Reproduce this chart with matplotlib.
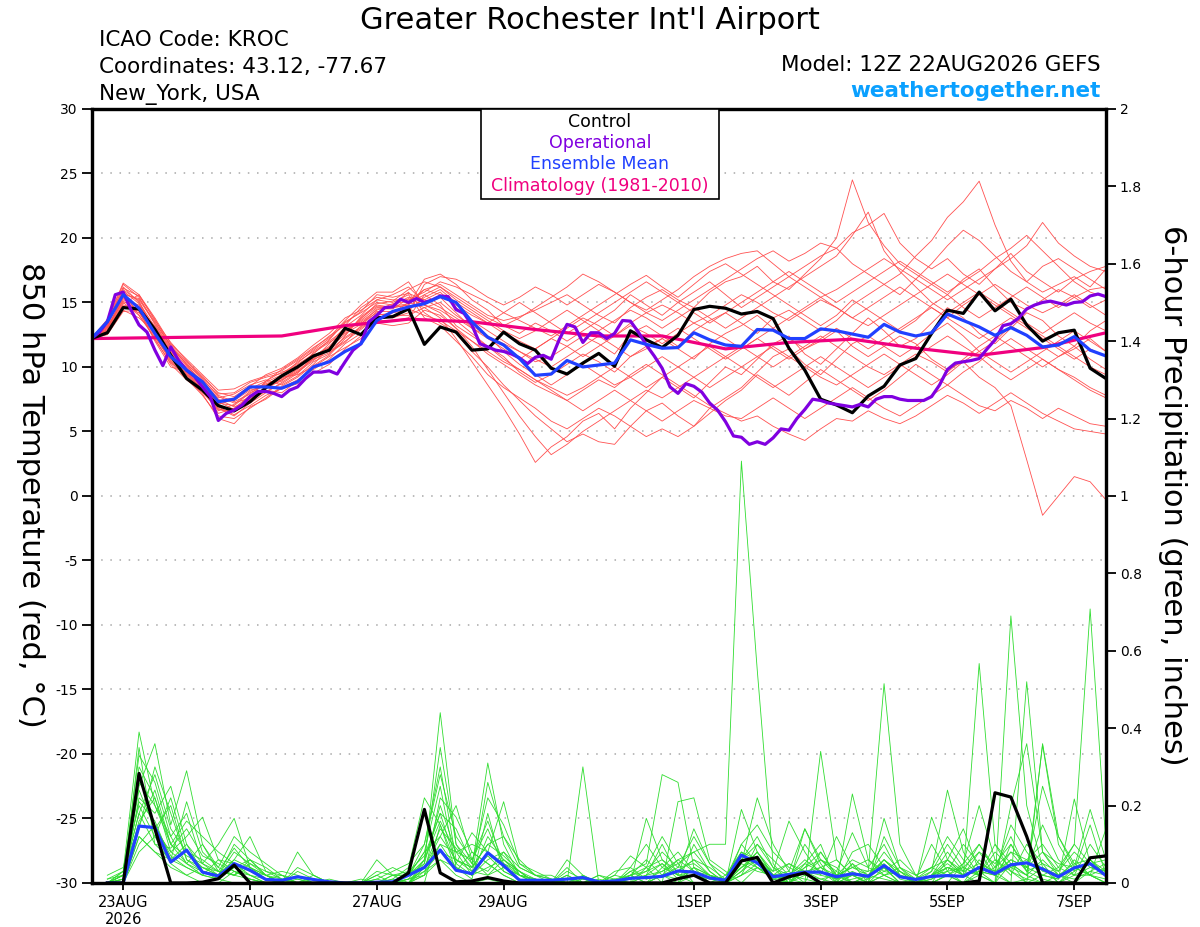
import numpy as np
import matplotlib.pyplot as plt
from matplotlib.patches import Rectangle

plt.rcParams['axes.unicode_minus'] = False

# GEFS meteogram, KROC, 12Z 22AUG2026 run
# temperature every 6 h from 0 to 384 h, operational every 3 h,
# precipitation as 6-h totals ending at 6 h ... 384 h
hours = np.arange(0, 385, 6)
oper_hours = np.arange(0, 385, 3)
precip_hours = np.arange(6, 385, 6)

# x axis dates (hours after 22AUG 12Z)
date_hours = [12, 60, 108, 156, 228, 276, 324, 372]
date_labels = ['23AUG\n2026', '25AUG', '27AUG', '29AUG', '1SEP', '3SEP', '5SEP', '7SEP']

# 850 hPa temperature (C)
control_t = [12.2, 12.65, 14.6, 14.5, 12.9, 10.9, 9.1, 8.2, 7.0, 6.6, 7.3, 8.4, 9.3, 10.0, 10.85,
             11.3, 13.0, 12.5, 13.8, 13.9, 14.5, 11.75, 13.1, 12.7, 11.3, 11.4, 12.7, 11.8, 11.3,
             9.9, 9.45, 10.3, 11.05, 10.05, 12.8, 12.1, 11.5, 12.45, 14.45, 14.7, 14.55, 14.1,
             14.3, 13.75, 11.45, 9.75, 7.5, 7.05, 6.45, 7.75, 8.5, 10.15, 10.65, 12.6, 14.4,
             14.15, 15.8, 14.35, 15.25, 13.25, 12.0, 12.65, 12.85, 9.9, 9.1]

mean_t = [12.2, 13.5, 15.6, 14.55, 12.6, 10.8, 9.75, 8.85, 7.3, 7.5, 8.45, 8.45, 8.35, 8.85, 10.0,
          10.4, 11.2, 11.8, 13.6, 14.3, 14.65, 14.9, 15.45, 15.0, 13.5, 12.3, 11.7, 10.65, 9.35,
          9.45, 10.5, 10.0, 10.15, 10.3, 12.1, 11.75, 11.45, 11.5, 12.65, 12.1, 11.7, 11.6, 12.9,
          12.85, 12.2, 12.2, 12.95, 12.8, 12.55, 12.3, 13.3, 12.7, 12.4, 12.65, 14.1, 13.6, 13.1,
          12.45, 13.05, 12.45, 11.55, 11.7, 12.35, 11.3, 10.85]

oper_t = [12.2, 12.7, 13.5, 15.6, 15.8, 14.4, 13.25, 12.7, 11.3, 10.1,
          11.55, 10.5, 9.75, 9.25, 8.45, 7.7, 5.85, 6.4, 6.65, 7.05,
          7.7, 8.1, 8.1, 7.95, 7.7, 8.2, 8.45, 9.1, 9.6, 9.6,
          9.7, 9.45, 10.4, 11.3, 11.8, 13.5, 14.0, 14.6, 14.65, 15.25,
          15.0, 15.3, 15.0, 15.2, 15.5, 15.45, 14.45, 14.15, 13.25, 11.8,
          11.55, 11.3, 11.2, 11.0, 10.7, 10.25, 10.75, 10.9, 10.6, 12.1,
          13.3, 13.1, 11.9, 12.65, 12.65, 12.2, 12.6, 13.6, 13.55, 12.7,
          11.7, 10.85, 9.9, 8.45, 7.95, 8.7, 8.5, 8.05, 7.2, 6.65,
          5.75, 4.65, 4.55, 4.0, 4.2, 4.0, 4.5, 5.2, 5.1, 6.0,
          6.7, 7.5, 7.4, 7.2, 7.1, 7.0, 6.9, 7.1, 6.9, 7.5,
          7.7, 7.7, 7.5, 7.4, 7.4, 7.4, 7.7, 8.6, 9.8, 10.3,
          10.4, 10.5, 10.65, 11.4, 12.1, 13.2, 13.35, 13.8, 14.5, 14.8,
          15.0, 15.1, 14.95, 14.8, 15.0, 15.05, 15.5, 15.65, 15.45]

clim_hours = [0, 72, 96, 120, 144, 168, 192, 216, 240, 264, 288, 312, 336, 360, 384]
clim_t = [12.2, 12.4, 13.2, 13.7, 13.5, 12.9, 12.4, 12.4, 11.4, 11.9, 12.15, 11.45, 10.9, 11.5, 12.65]

# ensemble members, first 21 steps (0-120 h)
members_t_early = [
    [12.2, 12.9, 15.2, 14.8, 13.0, 11.2, 9.9, 8.6, 7.2, 7.0, 8.0, 8.6, 9.0, 9.6, 10.5, 11.4, 12.8, 13.6, 14.6, 14.6, 14.8],
    [12.2, 13.2, 16.0, 15.1, 12.6, 10.7, 9.5, 8.3, 6.4, 6.8, 7.8, 8.2, 8.0, 8.9, 10.1, 10.9, 12.2, 13.0, 14.0, 14.2, 15.0],
    [12.2, 13.6, 16.4, 15.4, 13.3, 11.5, 10.3, 9.0, 7.8, 7.3, 7.9, 8.8, 9.4, 10.2, 11.0, 12.1, 13.5, 14.2, 15.0, 14.8, 15.4],
    [12.2, 12.6, 14.7, 14.2, 12.4, 10.4, 9.2, 7.9, 6.0, 5.6, 6.9, 7.5, 8.4, 9.0, 9.8, 10.6, 11.8, 12.6, 13.6, 13.6, 13.8],
    [12.2, 13.0, 15.5, 14.6, 12.8, 11.0, 10.0, 8.8, 7.6, 7.9, 8.6, 9.0, 8.6, 9.3, 10.4, 11.0, 12.4, 13.9, 14.8, 14.6, 14.8],
    [12.2, 13.4, 15.8, 14.0, 12.2, 10.2, 9.0, 8.0, 6.8, 6.2, 7.2, 8.0, 8.8, 9.6, 10.8, 11.6, 12.9, 13.4, 14.2, 14.8, 15.8],
    [12.2, 12.8, 14.9, 15.6, 13.8, 11.8, 10.6, 9.4, 8.2, 8.3, 8.9, 9.3, 9.7, 10.5, 11.4, 12.4, 13.2, 14.6, 15.4, 15.2, 15.2],
    [12.2, 13.1, 15.1, 14.4, 12.0, 10.0, 9.6, 8.5, 7.0, 6.6, 7.5, 8.4, 9.2, 9.4, 10.0, 10.8, 11.5, 12.2, 13.4, 13.2, 13.4],
    [12.2, 13.5, 16.2, 15.0, 13.1, 11.3, 9.8, 8.9, 7.4, 7.6, 8.3, 8.9, 9.6, 10.0, 10.6, 11.8, 13.1, 14.0, 15.2, 15.6, 16.2],
    [12.2, 12.7, 14.4, 13.8, 12.7, 10.8, 9.4, 8.1, 6.6, 7.1, 8.1, 8.7, 9.1, 9.8, 10.9, 11.2, 12.0, 12.9, 13.9, 13.8, 14.2],
    [12.2, 13.3, 15.6, 15.3, 13.5, 11.6, 10.2, 9.2, 8.0, 7.7, 8.5, 9.4, 9.9, 10.7, 11.7, 12.6, 13.8, 14.4, 15.2, 15.0, 15.6],
    [12.2, 12.9, 15.0, 14.0, 12.3, 10.6, 9.3, 8.4, 6.9, 6.3, 7.0, 7.8, 8.3, 8.7, 9.5, 10.2, 11.4, 12.4, 13.8, 14.2, 14.4],
    [12.2, 13.2, 15.9, 14.9, 12.9, 11.1, 9.7, 8.7, 7.3, 7.4, 8.2, 8.5, 8.9, 9.9, 11.1, 11.9, 12.6, 13.3, 14.5, 14.5, 15.3],
    [12.2, 13.7, 16.5, 15.6, 13.6, 11.9, 10.5, 9.1, 7.7, 7.2, 7.6, 8.3, 9.3, 10.1, 10.9, 11.5, 12.7, 13.7, 14.9, 15.1, 16.0],
    [12.2, 12.5, 14.3, 14.4, 13.2, 11.4, 10.1, 8.9, 7.5, 6.9, 7.4, 8.1, 8.7, 9.5, 10.7, 11.3, 12.3, 13.1, 14.1, 14.0, 14.0],
    [12.2, 13.0, 15.3, 14.7, 12.5, 10.5, 9.1, 7.8, 6.2, 6.0, 6.8, 7.6, 8.5, 9.2, 10.2, 11.5, 12.5, 13.8, 14.7, 14.7, 14.9],
    [12.2, 13.4, 15.7, 15.2, 13.4, 11.7, 10.4, 9.3, 7.9, 8.0, 8.8, 9.2, 9.5, 10.3, 11.3, 12.2, 13.4, 14.3, 15.6, 15.4, 15.7],
    [12.2, 12.8, 14.8, 14.5, 12.7, 10.9, 9.6, 8.2, 6.7, 6.5, 7.3, 8.3, 9.0, 9.7, 10.6, 11.1, 11.9, 13.2, 14.3, 14.3, 14.5],
    [12.2, 13.1, 15.4, 14.3, 12.1, 10.3, 9.4, 8.6, 7.1, 7.5, 8.4, 8.6, 9.3, 10.4, 11.2, 12.0, 12.9, 13.5, 14.4, 14.9, 15.1],
    [12.2, 13.5, 16.1, 15.5, 13.7, 11.6, 10.2, 8.7, 7.3, 6.7, 7.7, 8.9, 9.8, 10.6, 11.5, 12.3, 13.6, 14.8, 15.8, 15.8, 16.6],
]

# ensemble members, remaining 44 steps (126-384 h)
members_t_late = [
    [16.0, 16.4, 15.6, 14.8, 14.0, 13.6, 13.9, 14.4, 15.0, 15.6, 14.8, 14.0, 13.4, 14.6, 15.4, 16.0, 15.2, 14.6, 15.8, 16.6,
     17.0, 17.8, 16.6, 16.0, 17.2, 18.4, 20.0, 24.5, 21.2, 19.4, 18.0, 17.2, 16.4, 15.6, 16.8, 17.6, 16.2, 15.0, 14.4, 15.2,
     16.0, 15.4, 14.6, 15.2],
    [14.6, 13.8, 12.2, 10.4, 8.6, 6.8, 4.8, 2.6, 3.8, 4.6, 5.8, 6.4, 5.2, 6.8, 8.0, 9.2, 8.4, 7.6, 8.8, 10.0,
     9.4, 10.6, 11.8, 12.4, 11.0, 10.2, 11.4, 12.6, 13.8, 12.8, 11.6, 12.2, 13.4, 14.6, 13.8, 12.6, 11.8, 13.0, 14.2, 13.6,
     12.4, 11.6, 12.8, 13.6],
    [15.2, 15.8, 14.6, 13.6, 12.8, 12.0, 11.2, 10.4, 10.8, 11.6, 12.4, 11.8, 11.0, 12.6, 13.2, 12.4, 11.6, 12.8, 13.6, 14.2,
     13.4, 12.6, 13.8, 14.4, 13.6, 12.8, 13.6, 14.8, 15.6, 16.4, 17.2, 18.6, 19.8, 21.6, 22.8, 24.4, 21.0, 18.2, 16.6, 15.8,
     16.4, 17.0, 16.2, 17.6],
    [15.6, 14.8, 13.2, 12.4, 11.6, 10.8, 9.6, 8.8, 9.4, 10.2, 11.0, 10.4, 9.6, 10.8, 11.6, 12.2, 11.4, 10.6, 11.8, 12.6,
     13.2, 14.0, 13.0, 12.2, 11.4, 12.0, 12.8, 11.6, 10.8, 11.6, 12.4, 11.8, 10.6, 9.8, 10.4, 9.2, 8.4, 7.0, 2.8, -1.5,
     0.0, 1.5, 1.1, -0.3],
    [16.8, 17.2, 16.4, 15.2, 14.4, 13.2, 12.6, 13.4, 12.8, 12.0, 12.8, 13.6, 14.4, 15.6, 14.8, 14.0, 15.0, 15.8, 16.6, 15.6,
     14.6, 15.4, 16.2, 17.0, 17.8, 18.6, 19.2, 20.4, 21.0, 21.9, 19.6, 18.4, 17.6, 18.4, 17.2, 16.4, 17.6, 18.8, 17.4, 16.6,
     15.8, 16.8, 17.4, 17.8],
    [14.2, 13.4, 12.6, 11.2, 10.0, 8.6, 7.4, 6.2, 5.2, 4.2, 4.8, 4.2, 4.0, 5.4, 6.6, 7.2, 6.2, 5.4, 6.8, 7.6,
     8.4, 9.6, 10.8, 11.4, 10.2, 9.4, 10.6, 11.8, 12.4, 11.6, 10.8, 11.6, 12.6, 13.4, 12.4, 11.2, 12.0, 13.2, 12.4, 11.6,
     10.8, 11.4, 12.2, 11.2],
    [15.8, 16.6, 16.2, 15.6, 15.0, 14.2, 13.6, 13.0, 12.4, 13.2, 14.0, 14.8, 15.6, 16.4, 17.1, 16.2, 15.4, 16.4, 17.4, 18.0,
     17.2, 16.4, 15.6, 14.8, 14.0, 13.2, 14.0, 15.2, 14.4, 13.6, 12.8, 13.6, 14.8, 15.6, 14.6, 13.8, 14.6, 15.4, 16.2, 15.4,
     14.6, 15.4, 16.0, 16.2],
    [14.4, 14.0, 13.0, 12.0, 11.0, 10.2, 9.4, 8.6, 8.0, 7.4, 8.2, 9.0, 8.4, 9.4, 10.2, 9.4, 8.6, 7.8, 7.0, 6.4,
     5.8, 6.2, 5.4, 4.8, 4.3, 5.2, 6.0, 5.8, 6.6, 6.0, 5.6, 6.2, 7.0, 7.8, 7.2, 6.4, 7.2, 8.0, 7.2, 6.4,
     5.8, 5.2, 5.0, 4.8],
    [15.0, 15.4, 14.2, 13.0, 12.2, 11.4, 10.6, 11.4, 12.2, 11.6, 10.8, 11.6, 12.4, 13.2, 12.6, 11.8, 12.6, 13.4, 12.8, 12.2,
     11.4, 12.2, 13.0, 13.8, 14.6, 15.4, 14.6, 13.8, 13.2, 14.0, 14.8, 15.6, 16.4, 17.2, 16.4, 15.6, 14.8, 14.0, 13.2, 12.4,
     11.6, 10.8, 10.0, 9.4],
    [16.4, 17.0, 16.8, 16.2, 15.4, 14.8, 15.4, 16.2, 15.6, 14.8, 15.6, 16.4, 15.8, 15.0, 14.2, 13.6, 14.4, 15.2, 16.0, 16.8,
     17.6, 18.4, 19.0, 18.2, 18.8, 19.6, 19.2, 18.0, 17.2, 16.4, 15.6, 16.8, 18.0, 19.4, 20.6, 19.8, 18.6, 17.4, 16.6, 17.8,
     18.4, 17.6, 16.8, 16.0],
    [13.8, 13.2, 12.0, 10.8, 9.4, 8.4, 7.6, 6.8, 5.8, 5.2, 6.0, 6.8, 6.2, 5.4, 4.6, 5.2, 4.6, 5.4, 6.4, 7.4,
     8.2, 9.4, 8.6, 7.8, 8.8, 9.8, 9.0, 8.2, 7.4, 8.2, 9.2, 10.2, 9.4, 8.6, 9.6, 10.4, 11.4, 12.2, 11.4, 10.6,
     9.8, 9.2, 8.4, 7.8],
    [15.4, 16.0, 15.0, 14.2, 13.4, 12.6, 12.0, 11.4, 12.2, 13.0, 13.8, 13.2, 12.4, 13.4, 14.2, 14.8, 14.2, 13.4, 14.0, 14.8,
     15.6, 15.0, 14.2, 13.6, 14.4, 15.2, 14.6, 13.8, 14.6, 15.4, 16.2, 15.4, 14.6, 13.8, 14.8, 15.6, 16.4, 15.6, 14.8, 14.2,
     14.8, 15.6, 14.8, 14.0],
    [14.8, 14.2, 13.0, 11.6, 9.8, 8.0, 6.2, 4.6, 3.2, 4.0, 5.0, 5.8, 6.6, 7.4, 8.2, 7.6, 8.4, 9.2, 10.0, 10.8,
     11.6, 10.8, 10.0, 10.8, 11.6, 12.4, 11.6, 10.8, 10.0, 9.4, 10.2, 11.0, 10.4, 9.6, 10.6, 11.6, 12.4, 11.6, 10.8, 10.0,
     10.8, 11.6, 10.6, 9.8],
    [16.6, 16.2, 15.4, 14.6, 13.8, 13.2, 13.8, 14.6, 15.4, 16.2, 17.2, 16.6, 15.8, 15.0, 14.4, 15.2, 16.0, 17.0, 17.8, 18.4,
     18.8, 19.0, 18.0, 17.0, 16.2, 15.4, 16.0, 16.8, 17.6, 18.4, 17.6, 16.8, 16.0, 15.2, 16.0, 16.8, 17.6, 18.4, 19.4, 21.2,
     19.6, 18.6, 17.8, 17.4],
    [14.6, 15.0, 14.0, 13.2, 12.4, 11.2, 10.2, 9.4, 8.6, 9.4, 10.2, 9.4, 8.6, 9.2, 10.0, 10.8, 10.0, 9.2, 8.4, 9.2,
     10.0, 10.8, 11.6, 10.8, 10.0, 9.2, 8.6, 9.4, 10.2, 11.0, 10.2, 9.4, 8.6, 9.4, 10.4, 11.2, 10.4, 9.6, 10.4, 11.2,
     12.0, 12.8, 12.0, 11.2],
    [15.6, 16.2, 15.2, 14.4, 13.6, 12.8, 12.2, 12.8, 13.6, 14.4, 13.6, 12.8, 13.6, 14.4, 13.8, 13.0, 13.8, 14.6, 13.8, 13.0,
     13.8, 14.6, 15.4, 16.2, 17.0, 17.8, 18.6, 20.2, 22.0, 19.0, 17.4, 16.2, 15.0, 14.2, 15.0, 15.8, 15.0, 14.2, 13.4, 12.6,
     13.4, 14.2, 13.4, 12.8],
    [15.2, 14.6, 13.8, 13.0, 12.4, 11.8, 11.2, 10.6, 10.0, 10.8, 11.6, 12.4, 11.6, 10.8, 11.4, 12.2, 13.0, 12.2, 11.4, 10.6,
     11.4, 12.2, 11.4, 10.6, 11.4, 12.2, 13.0, 12.2, 11.4, 12.2, 13.0, 13.8, 14.6, 13.8, 13.0, 12.2, 13.0, 13.8, 13.0, 12.2,
     11.4, 10.6, 11.4, 10.8],
    [14.0, 13.6, 12.8, 12.0, 11.2, 10.4, 9.8, 9.0, 8.2, 7.4, 6.6, 7.4, 8.2, 7.4, 6.6, 5.8, 6.6, 7.4, 6.8, 6.2,
     6.0, 6.8, 7.6, 6.8, 6.0, 6.8, 7.6, 8.4, 7.6, 6.8, 6.2, 7.0, 7.8, 8.6, 7.8, 7.0, 6.6, 7.4, 6.8, 6.0,
     6.8, 6.2, 5.6, 5.4],
    [16.0, 15.6, 14.8, 14.0, 13.4, 14.2, 15.0, 14.2, 13.4, 12.6, 13.4, 14.2, 15.0, 15.8, 16.6, 15.8, 15.0, 14.2, 13.4, 14.2,
     15.0, 15.8, 16.6, 17.4, 16.6, 15.8, 15.0, 15.8, 16.6, 17.4, 18.2, 17.4, 16.6, 15.8, 16.6, 17.4, 18.4, 19.2, 20.2, 19.0,
     17.8, 16.6, 15.8, 15.4],
    [14.8, 14.4, 13.6, 12.6, 11.6, 10.6, 9.8, 9.0, 8.4, 7.8, 8.4, 9.2, 10.0, 9.2, 8.4, 9.2, 10.0, 10.8, 11.6, 10.8,
     10.0, 9.2, 8.4, 9.2, 10.0, 10.8, 10.0, 9.2, 8.4, 9.2, 10.0, 10.8, 11.6, 12.4, 11.6, 10.8, 9.8, 9.0, 9.8, 10.6,
     9.8, 9.0, 8.2, 7.6],
]
members_t = [e + l for e, l in zip(members_t_early, members_t_late)]

# 6-hour precipitation (inches)
control_p = [0, 0, .283, .14, 0, 0, .002, .011, .046, 0, 0, 0, 0, 0, 0, 0,
             0, 0, 0, .026, .19, .026, .003, .005, .014, .005, 0, 0, 0, 0, 0, 0,
             0, 0, 0, 0, .011, .02, 0, 0, .057, .066, 0, .016, .026, 0, 0, 0,
             0, 0, 0, 0, 0, 0, 0, .005, .233, .222, .12, 0, 0, 0, .065, .07]

mean_p = [0, 0, .147, .143, .054, .085, .028, .018, .05, .033, .009, .007, .016, .009, .003, 0,
          0, .002, .003, .02, .04, .085, .033, .024, .078, .045, .007, .007, .007, .01, .014, .003,
          .005, .012, .014, .017, .031, .028, .013, .007, .072, .052, .016, .022, .028, .028, .016, .024,
          .017, .045, .016, .009, .017, .019, .017, .04, .024, .047, .052, .036, .016, .039, .05, .019]

members_p = [
    [0, 0, .12, .08, .04, .02, 0, 0, .03, .01, 0, 0, 0, 0, 0, 0,
     0, 0, 0, .01, .03, .06, .02, 0, .01, 0, 0, 0, 0, .02, 0, 0,
     0, 0, 0, .02, .06, .08, .10, .10, 1.09, .55, .05, 0, .03, .01, 0, .02,
     0, .04, 0, 0, 0, .02, 0, .06, .02, 0, .01, 0, 0, .04, .02, 0],
    [.01, .03, .39, .20, .10, .05, .02, .01, 0, 0, 0, 0, 0, 0, 0, 0,
     0, 0, 0, 0, .05, .44, .10, .03, .02, .06, .02, 0, 0, 0, .30, 0,
     0, 0, 0, 0, 0, .02, 0, 0, .03, .08, .02, 0, 0, 0, 0, .05,
     0, .12, .04, 0, 0, .06, .02, 0, 0, .69, .20, .04, 0, 0, .06, .02],
    [0, .02, .25, .36, .15, .29, .10, .03, .02, .04, .01, 0, 0, 0, 0, 0,
     0, 0, 0, .02, .08, .12, .06, .04, .31, .10, .02, 0, 0, .01, 0, 0,
     .02, .07, .04, 0, 0, .10, .03, 0, .19, .08, .02, .05, .03, 0, 0, .08,
     .10, .04, 0, 0, .03, .24, .08, .02, 0, .05, 0, .36, .12, .05, .02, 0],
    [0, .01, .30, .22, .08, .12, .17, .06, .03, .01, 0, 0, 0, .02, 0, 0,
     0, .06, .02, 0, .02, .22, .17, .08, .05, .02, 0, 0, 0, 0, .02, 0,
     0, .03, .05, .28, .26, .04, 0, 0, .05, .22, .10, .03, 0, .34, .06, .02,
     .02, .01, 0, 0, .02, .08, .03, .02, .10, .05, .02, 0, .02, .04, .19, .06],
    [0, 0, .22, .18, .25, .10, .05, .10, .167, .04, .02, 0, .08, .02, 0, 0,
     0, 0, 0, .03, .07, .18, .05, .13, .08, .21, .05, .02, 0, 0, .01, 0,
     0, 0, .167, .06, .02, .14, .05, .02, .08, .06, .03, .16, .08, .02, .12, .04,
     .03, .515, .10, .02, 0, 0, .05, .10, .03, 0, .52, .08, .02, 0, .03, .05],
    [0, .02, .18, .28, .14, .08, .04, .02, .06, .12, .03, .02, 0, 0, 0, 0,
     0, 0, .02, .02, .10, .28, .12, .06, .16, .05, .03, 0, 0, 0, 0, 0,
     0, .02, 0, 0, .21, .22, .06, .03, 0, .04, .02, 0, .14, .06, .03, .13,
     .04, .02, 0, 0, .17, .06, .02, .567, .10, .03, 0, .02, .01, .06, .02, 0],
    [0, 0, .35, .10, .06, .21, .08, .04, .02, .06, .04, .01, 0, 0, 0, 0,
     .01, 0, 0, 0, .04, .10, .08, .02, .26, .12, .04, .02, .01, 0, 0, .02,
     .01, 0, .04, .12, .05, 0, 0, 0, .06, .12, .04, 0, .05, .10, 0, .02,
     0, .167, .04, .02, .04, .02, 0, .03, 0, .10, .04, .25, .12, .04, .02, .14],
    [0, .03, .15, .24, .10, .16, .12, .08, .05, .02, 0, 0, .04, .02, 0, 0,
     0, 0, 0, 0, 0, .15, .05, .02, .12, .06, .03, 0, 0, .02, 0, 0,
     0, .04, .10, .04, .02, .02, .01, 0, .04, .07, .02, .03, .14, .05, 0, .23,
     .06, .02, 0, .01, .03, .10, .04, .02, 0, .20, .36, .08, .03, .10, .708, .10],
    [0, .01, .28, .14, .08, .05, .10, .04, .12, .08, .05, .02, 0, 0, .01, 0,
     0, .02, 0, .01, .06, .35, .10, .05, .03, .08, .04, .02, .01, 0, 0, 0,
     .02, .01, .03, .08, .04, .05, .02, 0, .02, .10, .06, .02, .01, 0, .03, 0,
     .02, .06, .02, 0, .02, .06, .14, .03, .02, .08, .06, .02, .01, .217, .05, .02],
    [.02, .04, .20, .12, .22, .08, .06, .03, .09, .04, .02, 0, 0, .01, 0, 0,
     0, .02, .04, .02, .08, .25, .04, .01, .18, .03, .01, 0, 0, .06, .02, 0,
     0, .02, .06, .02, 0, .04, .02, .01, .10, .05, .02, .01, 0, .08, .02, 0,
     0, .02, .03, 0, .01, .04, .02, .08, .05, .10, .03, .15, .06, .02, .04, .03],
    [0, 0, .10, .15, .07, .04, .02, .06, .05, .03, .01, 0, 0, 0, 0, 0,
     0, 0, 0, 0, .03, .08, .06, .04, .10, .12, .06, .02, .02, 0, 0, 0,
     0, 0, .02, .03, .06, .03, 0, 0, .02, .05, .01, .02, .06, .03, 0, .01,
     .02, .08, .03, .01, .10, .03, 0, .02, .04, .12, .03, .01, 0, .02, .10, .04],
    [0, .02, .33, .26, .12, .05, .03, .02, .04, .02, 0, 0, 0, 0, 0, 0,
     0, 0, .01, .04, .22, .15, .03, .08, .05, .02, 0, 0, 0, 0, 0, .02,
     0, .02, 0, .04, .08, .03, .02, 0, .10, .15, .08, .04, .02, .06, .04, 0,
     .02, .04, 0, 0, 0, .02, .05, .20, .06, .02, .10, .05, 0, .03, .15, .02],
    [0, .01, .14, .30, .18, .06, .03, .02, .10, .06, .02, .03, .02, 0, 0, 0,
     0, .01, 0, 0, .04, .12, .20, .06, .02, .04, .02, 0, 0, 0, 0, 0,
     0, 0, .02, .05, .01, .02, 0, .02, .06, .04, .01, 0, .03, .02, .01, .03,
     .01, .03, .06, .02, .04, .12, .06, .02, .08, .04, .02, .357, .10, .03, .06, .02],
    [0, .03, .26, .20, .12, .18, .05, .03, .02, .05, .03, .01, 0, 0, 0, 0,
     0, .03, .02, .02, .05, .20, .08, .06, .14, .04, .02, .01, 0, .03, .01, 0,
     .01, 0, 0, .02, .04, .12, .05, 0, .04, .08, .03, .05, .02, .01, .02, .06,
     .04, .10, .02, 0, .02, .05, .02, .04, .02, .06, .04, .02, .04, .10, .05, .06],
    [0, 0, .08, .12, .05, .02, .04, .03, .02, .01, 0, 0, 0, 0, 0, 0,
     0, 0, 0, 0, .02, .06, .04, .02, .06, .08, .02, .01, 0, 0, 0, 0,
     0, .01, .02, .10, .02, 0, 0, 0, .03, .06, .02, 0, .04, .08, .02, 0,
     .01, .06, .02, 0, .02, .04, .02, .03, .02, .05, .02, .06, .02, .01, .03, .02],
    [.01, .02, .18, .10, .09, .14, .07, .05, .03, .02, .01, .02, .01, 0, 0, 0,
     0, 0, .01, 0, .06, .18, .14, .05, .22, .15, .05, .03, .01, 0, 0, 0,
     0, .03, .01, .02, .03, .06, .04, .01, .08, .04, .02, .01, .10, .04, .06, .02,
     .03, .05, .01, 0, .01, .03, .10, .05, .03, .15, .08, .03, .02, .05, .06, .03],
    [0, .02, .21, .16, .06, .10, .03, .01, .05, .03, .02, 0, .03, .01, 0, 0,
     0, .01, .03, .05, .10, .30, .06, .03, .07, .03, .01, 0, 0, .04, 0, 0,
     .03, .04, .01, .03, .05, .08, .03, 0, .05, .03, .02, .02, .03, .04, .02, .04,
     .02, .04, .02, 0, .02, .03, .04, .08, .02, .04, .06, .10, .04, .02, .02, .04],
    [0, 0, .12, .08, .06, .04, .02, .01, .04, .06, .02, 0, 0, 0, 0, 0,
     0, 0, 0, .01, .02, .10, .04, .02, .04, .06, .03, .01, 0, 0, 0, .01,
     0, 0, 0, .02, .01, .04, .02, 0, .02, .04, .01, 0, .02, .04, .01, .02,
     0, .02, .04, .01, 0, .02, .04, .02, .06, .03, .01, .04, .02, .04, .02, .01],
    [0, .01, .16, .22, .10, .07, .05, .02, .08, .05, .02, .01, 0, 0, 0, 0,
     0, 0, .02, .03, .04, .14, .09, .04, .10, .07, .03, 0, 0, .01, 0, 0,
     .01, .02, .04, .06, .03, .06, .02, .01, .04, .06, .02, .01, .04, .06, .02, .04,
     .06, .03, .02, .01, .04, .06, .03, .10, .04, .08, .03, .05, .03, .08, .04, .03],
    [0, .02, .24, .14, .20, .06, .04, .02, .06, .04, .01, 0, .01, 0, 0, 0,
     0, 0, 0, .02, .06, .16, .08, .10, .08, .05, .02, .01, 0, 0, 0, 0,
     0, .02, .03, .05, .02, .03, .01, .01, .06, .10, .04, .02, .05, .03, .01, .05,
     .02, .06, .03, 0, .02, .04, .03, .05, .03, .06, .04, .08, .05, .04, .05, .02],
]

fig = plt.figure(figsize=(12, 9.27), dpi=100)
ax = fig.add_axes([0.07625, 0.0475, 0.8454, 0.835])
ax2 = ax.twinx()

for m in members_t:
    ax.plot(hours, m, color='#ff5050', lw=0.6, zorder=2)
ax.plot(clim_hours, clim_t, color='#f0007f', lw=2.3, zorder=3)
ax.plot(hours, control_t, color='black', lw=2.3, zorder=4)
ax.plot(oper_hours, oper_t, color='#8000e0', lw=2.3, zorder=4)
ax.plot(hours, mean_t, color='#2040ff', lw=2.3, zorder=5)

for m in members_p:
    ax2.plot(precip_hours, m, color='#30dd30', lw=0.6)
ax2.plot(precip_hours, mean_p, color='#2040ff', lw=2.3)
ax2.plot(precip_hours, control_p, color='black', lw=2.3)

ax.set_xlim(0, 384)
ax.set_ylim(-30, 30)
ax.set_yticks(range(-30, 31, 5))
ax.set_xticks(date_hours)
ax.set_xticklabels(date_labels, linespacing=1.15)
ax.grid(axis='y', color='#a8a8a8', linestyle=(0, (1, 5)), linewidth=1.1)
ax.set_axisbelow(True)

ax2.set_ylim(0, 2)
ax2.set_yticks(np.arange(0, 2.01, 0.2))
ax2.yaxis.set_major_formatter(lambda v, p: f'{v:g}')

for a in (ax, ax2):
    for s in a.spines.values():
        s.set_linewidth(2.3)
ax.tick_params(axis='y', direction='out', length=7, width=1.3, labelsize=10, pad=3)
ax.tick_params(axis='x', direction='out', length=5, width=1.3, labelsize=10.5, pad=4)
ax2.tick_params(axis='y', direction='out', length=7, width=1.3, labelsize=10, pad=3)

fig.text(0.025, 0.466, '850 hPa Temperature (red, °C)', rotation=270,
         ha='center', va='center', fontsize=22)
fig.text(0.977, 0.466, '6-hour Precipitation (green, inches)', rotation=270,
         ha='center', va='center', fontsize=22)

# header
fig.text(0.4917, 0.9684, "Greater Rochester Int'l Airport", ha='center', va='baseline', fontsize=22)
fig.text(0.0823, 0.9507, 'ICAO Code: KROC', va='baseline', fontsize=15.5)
fig.text(0.0823, 0.9209, 'Coordinates: 43.12, -77.67', va='baseline', fontsize=15.5)
fig.text(0.0823, 0.8921, 'New_York, USA', va='baseline', fontsize=15.5)
fig.text(0.9175, 0.9234, 'Model: 12Z 22AUG2026 GEFS', ha='right', va='baseline', fontsize=15.5)
fig.text(0.9175, 0.8957, 'weathertogether.net', ha='right', va='baseline', fontsize=15.5,
         fontweight='bold', color='#0aa0ff')

# legend box
fig.patches.append(Rectangle((0.4006, 0.7853), 0.1988, 0.0968, transform=fig.transFigure,
                             facecolor='white', edgecolor='black', lw=1.2, zorder=5))
legend_items = [('Control', 'black', 126.7), ('Operational', '#8000e0', 148.3),
                ('Ensemble Mean', '#2040ff', 169.3), ('Climatology (1981-2010)', '#f0007f', 190.7)]
for txt, col, ypx in legend_items:
    fig.text(0.5, 1 - ypx / 927, txt, color=col, ha='center', va='baseline', fontsize=12.5, zorder=6)

fig.savefig('out.png', dpi=100)
